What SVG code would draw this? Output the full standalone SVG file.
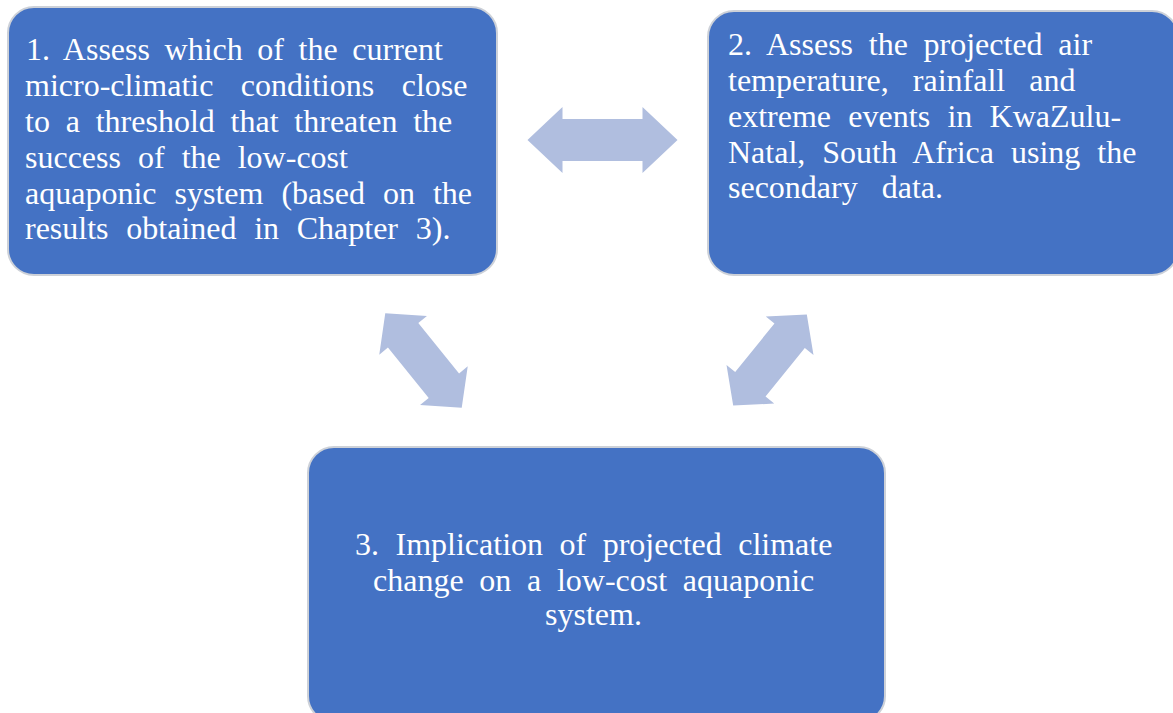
<svg xmlns="http://www.w3.org/2000/svg" width="1173" height="713" viewBox="0 0 1173 713">
<defs>
<style>
.box{fill:#4472C4;stroke:#CDD1D8;stroke-width:2}
.t{font-family:"Liberation Serif","Times New Roman",serif;font-size:32px;fill:#FFFFFF}
.arr{fill:#B0BEDF}
</style>
<path id="dbl" d="M-75,0 L-40,-33 L-40,-21 L40,-21 L40,-33 L75,0 L40,33 L40,21 L-40,21 L-40,33 Z"/>
</defs>
<rect width="1173" height="713" fill="#FFFFFF"/>
<g id="node1">
<rect class="box" x="8" y="7" width="489" height="268" rx="26" ry="26"/>
<text class="t" x="26" y="60" word-spacing="6.6">1. Assess which of the current</text>
<text class="t" x="25" y="96" word-spacing="19.5">micro-climatic conditions close</text>
<text class="t" x="25" y="132" word-spacing="7.8">to a threshold that threaten the</text>
<text class="t" x="25" y="168" word-spacing="9">success of the low-cost</text>
<text class="t" x="25" y="204" word-spacing="10">aquaponic system (based on the</text>
<text class="t" x="25" y="239" word-spacing="9.7">results obtained in Chapter 3).</text>
</g>
<g id="node2">
<rect class="box" x="708" y="11" width="470" height="264" rx="26" ry="26"/>
<text class="t" x="728" y="55" word-spacing="7.7">2. Assess the projected air</text>
<text class="t" x="728" y="91" word-spacing="16">temperature, rainfall and</text>
<text class="t" x="728" y="127" word-spacing="9.3">extreme events in KwaZulu-</text>
<text class="t" x="728" y="163" word-spacing="9">Natal, South Africa using the</text>
<text class="t" x="728" y="198" word-spacing="16">secondary data.</text>
</g>
<g id="node3">
<rect class="box" x="308" y="447" width="577" height="275" rx="26" ry="26"/>
<text class="t" x="355" y="555" word-spacing="8.5">3. Implication of projected climate</text>
<text class="t" x="373" y="591" word-spacing="7.7">change on a low-cost aquaponic</text>
<text class="t" x="545" y="625">system.</text>
</g>
<g id="connectors">
<use href="#dbl" class="arr" transform="translate(602.5,140)"/>
<use href="#dbl" class="arr" transform="translate(423.5,360.5) rotate(51) scale(0.81,0.93)"/>
<use href="#dbl" class="arr" transform="translate(770,360) rotate(-51) scale(0.78,0.93)"/>
</g>
</svg>
